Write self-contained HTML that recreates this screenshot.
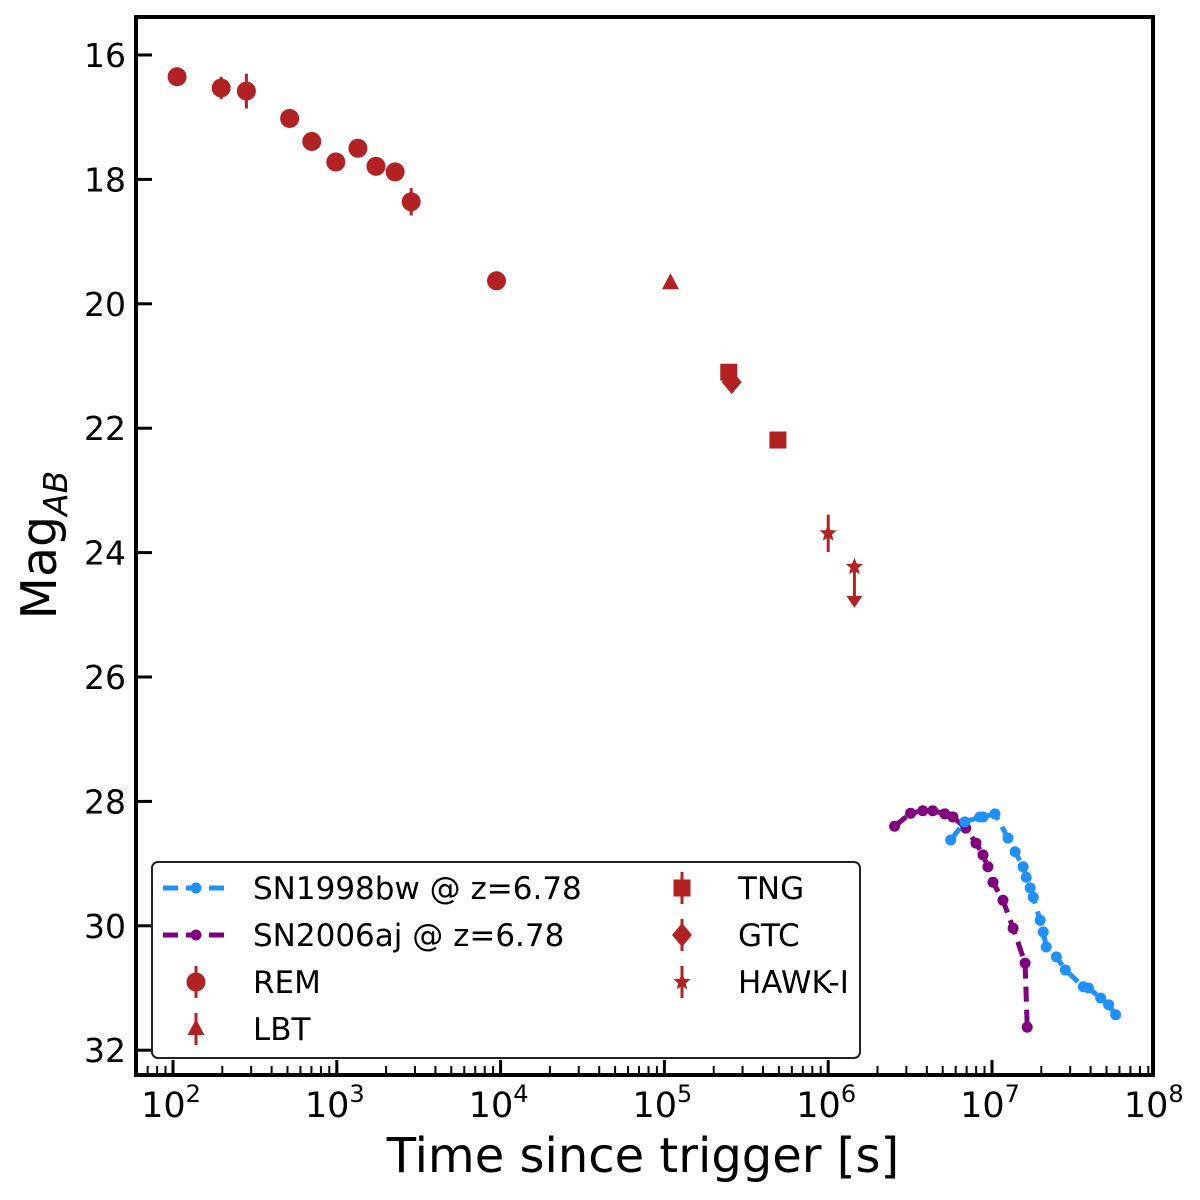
<!DOCTYPE html>
<html><head><meta charset="utf-8"><style>
body{margin:0;background:#fff;}
svg{display:block;font-family:"DejaVu Sans","Liberation Sans",sans-serif;}
</style></head><body>
<svg id="chart" width="1200" height="1200" viewBox="0 0 1200 1200" xmlns="http://www.w3.org/2000/svg"></svg>
<script>
// ---- data ----
const remLogT = [2.025,2.294,2.448,2.712,2.847,2.994,3.129,3.239,3.356,3.454,3.975];
const remMag  = [16.35,16.53,16.58,17.02,17.39,17.72,17.50,17.79,17.88,18.36,19.63];
const remErr  = [0.15,0.18,0.28,0.12,0.15,0.12,0.12,0.12,0.12,0.22,0.12];
const lbtLogT = [5.037]; const lbtMag = [19.67]; const lbtErr=[0.05];
const tngLogT = [5.393,5.693]; const tngMag = [21.10,22.19]; const tngErr=[0.1,0.1];
const gtcLogT = [5.411]; const gtcMag = [21.26]; const gtcErr=[0.1];
const hawkLogT = [6.0,6.16]; const hawkMag = [23.69,24.23]; const hawkErr=[0.3,0];
const sn98LogT = [6.748,6.834,6.926,6.945,7.018,7.098,7.141,7.190,7.209,7.233,7.252,7.294,7.313,7.331,7.393,7.448,7.558,7.589,7.663,7.712,7.755];
const sn98Mag  = [28.62,28.33,28.25,28.25,28.20,28.59,28.81,29.05,29.22,29.39,29.54,29.91,30.10,30.34,30.50,30.71,30.98,31.00,31.16,31.27,31.43];
const sn06LogT = [6.405,6.503,6.577,6.638,6.712,6.761,6.840,6.902,6.945,6.975,7.006,7.067,7.129,7.202,7.215];
const sn06Mag  = [28.40,28.19,28.15,28.15,28.20,28.25,28.43,28.67,28.86,29.05,29.30,29.59,30.04,30.60,31.63];
const yTicks = [16,18,20,22,24,26,28,30,32];
const xTicks = [2,3,4,5,6,7,8];

const NS="http://www.w3.org/2000/svg";
const svg=document.getElementById('chart');
const L=136,R=1153,T=17,B=1075;
function X(lt){return 173+(lt-2)*163.8;}
function Y(m){return 55+(m-16)*62.2;}
function el(tag,attrs,parent){const e=document.createElementNS(NS,tag);for(const k in attrs)e.setAttribute(k,attrs[k]);(parent||svg).appendChild(e);return e;}
const red="#b22222";

// ticks
yTicks.forEach(v=>{
  const t=el('line',{x1:L,x2:L+16,y1:Y(v),y2:Y(v),stroke:'#000','stroke-width':3});
  
  
  const lb=el('text',{x:126,y:Y(v)+12,'text-anchor':'end','font-size':33});
  lb.textContent=v;
  
  
});
for(let d=1;d<8;d++){for(let k=2;k<=9;k++){const lt=d+Math.log10(k);const x=X(lt);if(x<L+2||x>R-2)continue;
  const m=el('line',{x1:x,x2:x,y1:B,y2:B-9,stroke:'#000','stroke-width':2});
  
  }}
xTicks.forEach(v=>{
  if(X(v)<R-2){
  const t=el('line',{x1:X(v),x2:X(v),y1:B,y2:B-15,stroke:'#000','stroke-width':3});
  
  }
  const lb=el('text',{x:X(v)-2,y:1117,'text-anchor':'middle','font-size':35});
  lb.innerHTML='10<tspan dy="-15" font-size="24">'+v+'</tspan>';
  
  
});

// SN curves
function curve(lts,ms,col,name){
  const g=el('g',{});
  
  
  el('polyline',{points:lts.map((t,i)=>X(t)+','+Y(ms[i])).join(' '),fill:'none',stroke:col,'stroke-width':5,'stroke-dasharray':'15,8'},g);
  lts.forEach((t,i)=>{const c=el('circle',{cx:X(t),cy:Y(ms[i]),r:5.5,fill:col},g);
    
    });
}
curve(sn06LogT,sn06Mag,'#800080','sn2006aj-curve');
curve(sn98LogT,sn98Mag,'#1e90ff','sn1998bw-curve');

// markers
function marker(shape,x,y,g){
  if(shape==='o') el('circle',{cx:x,cy:y,r:9.5,fill:red},g);
  else if(shape==='^') el('polygon',{points:`${x},${y-10} ${x+8.5},${y+6} ${x-8.5},${y+6}`,fill:red},g);
  else if(shape==='s') el('rect',{x:x-8.5,y:y-8.5,width:17,height:17,fill:red},g);
  else if(shape==='d') el('polygon',{points:`${x},${y-12} ${x+10},${y} ${x},${y+12} ${x-10},${y}`,fill:red},g);
  else if(shape==='*'){let p=[];for(let i=0;i<10;i++){const r=i%2?4:9,a=-Math.PI/2+i*Math.PI/5;p.push((x+r*Math.cos(a))+','+(y+r*Math.sin(a)));}el('polygon',{points:p.join(' '),fill:red},g);}
}
function series(lts,ms,errs,shape,name){
  lts.forEach((t,i)=>{
    const g=el('g',{});
    
    
    const x=X(t),y=Y(ms[i]);
    if(errs[i]>0) el('line',{x1:x,x2:x,y1:Y(ms[i]-errs[i]),y2:Y(ms[i]+errs[i]),stroke:red,'stroke-width':3},g);
    marker(shape,x,y,g);
  });
}
series(remLogT,remMag,remErr,'o','rem');
series(lbtLogT,lbtMag,lbtErr,'^','lbt');
series(tngLogT,tngMag,tngErr,'s','tng');
series(gtcLogT,gtcMag,gtcErr,'d','gtc');
series(hawkLogT,hawkMag,hawkErr,'*','hawk-i');
// upper limit arrow on last HAWK-I point
(function(){const x=X(hawkLogT[1]),y=Y(hawkMag[1]);
  const g=el('g',{});
  
  
  el('line',{x1:x,x2:x,y1:y,y2:y+30,stroke:red,'stroke-width':3},g);
  el('polygon',{points:`${x-8},${y+29} ${x+8},${y+29} ${x},${y+41}`,fill:red},g);})();

// frame
const fr=el('rect',{x:L,y:T,width:R-L,height:B-T,fill:'none',stroke:'#000','stroke-width':4});



// legend
const lg=el('g',{});


el('rect',{x:152,y:862,width:708,height:196,rx:6,fill:'#fff','fill-opacity':0.9,stroke:'#222','stroke-width':2},lg);
const rows=[888,935,982,1029];
function ltext(x,y,s,name){const t=el('text',{x:x,y:y+11,'font-size':31},lg);t.textContent=s;
  
  }
[['#1e90ff','SN1998bw @ z=6.78','legend-sn1998bw'],['#800080','SN2006aj @ z=6.78','legend-sn2006aj']].forEach((c,i)=>{
  el('line',{x1:163,x2:230,y1:rows[i],y2:rows[i],stroke:c[0],'stroke-width':5,'stroke-dasharray':'15,8'},lg);
  el('circle',{cx:196,cy:rows[i],r:5.5,fill:c[0]},lg);
  ltext(253,rows[i],c[1],c[2]);
});
[['o','REM',2,196,253],['^','LBT',3,196,253],['s','TNG',0,682,738],['d','GTC',1,682,738],['*','HAWK-I',2,682,738]].forEach(e=>{
  const y=rows[e[2]];
  el('line',{x1:e[3],x2:e[3],y1:y-16,y2:y+16,stroke:red,'stroke-width':3},lg);
  marker(e[0],e[3],y,lg);
  ltext(e[4],y,e[1],'legend-'+e[1].toLowerCase());
});

// axis titles
const xt=el('text',{x:643,y:1172,'text-anchor':'middle','font-size':48});
xt.textContent='Time since trigger [s]';


const yt=el('text',{x:0,y:0,'text-anchor':'middle','font-size':49,transform:'translate(56,545) rotate(-90)'});
yt.innerHTML='Mag<tspan font-size="33" font-style="italic" dy="11">AB</tspan>';


</script>
</body></html>
